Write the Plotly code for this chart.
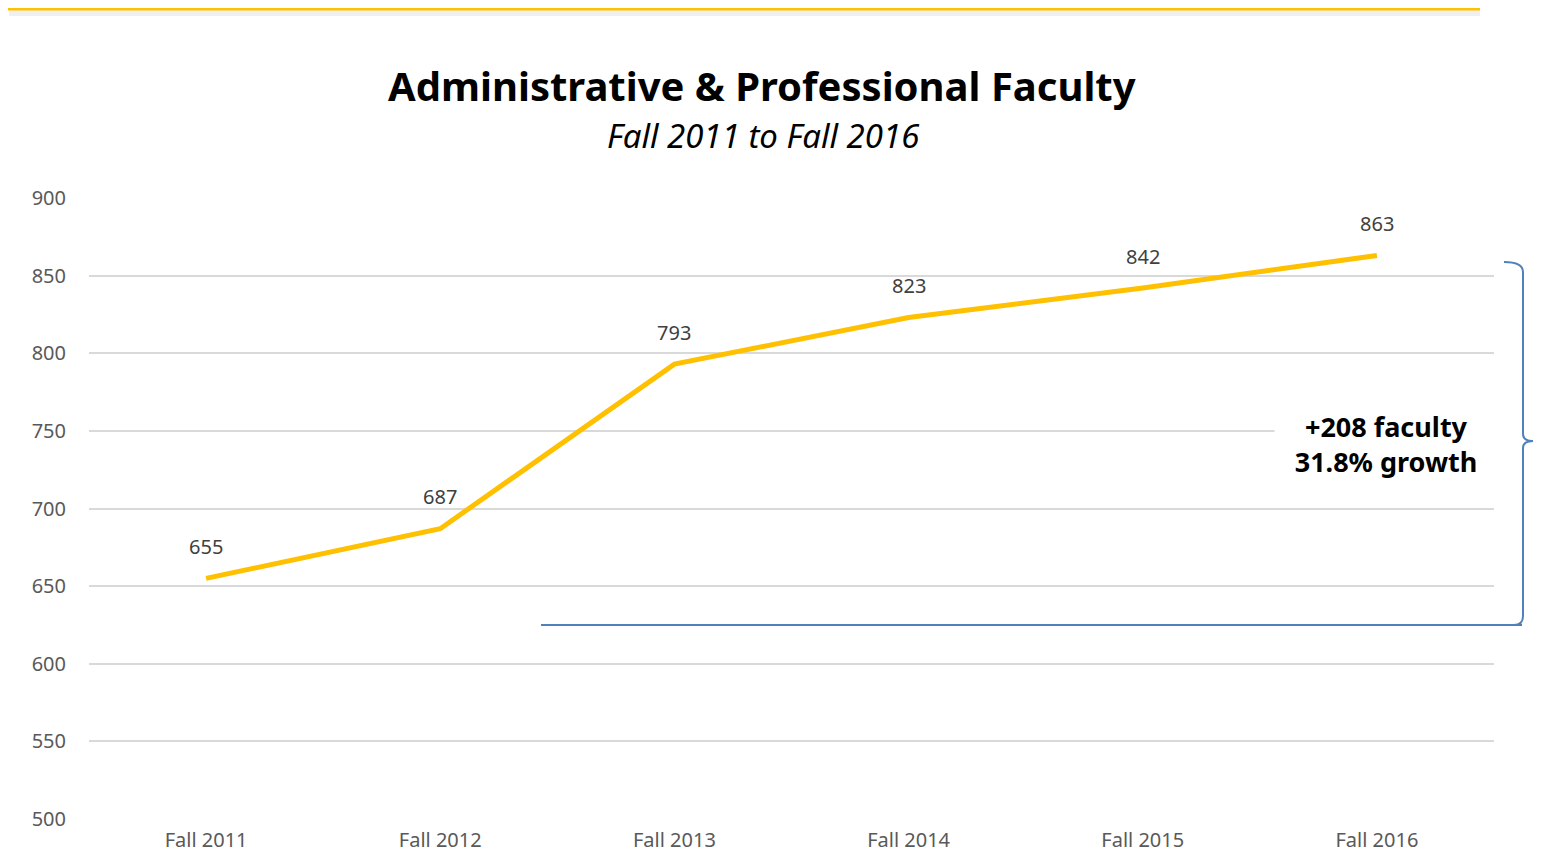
import plotly.graph_objects as go

# データ
terms = ["Fall 2011", "Fall 2012", "Fall 2013", "Fall 2014", "Fall 2015", "Fall 2016"]
faculty = [655, 687, 793, 823, 842, 863]
y_ticks = [500, 550, 600, 650, 700, 750, 800, 850, 900]
growth_text = "+208 faculty<br>31.8% growth"

# ページ上の8pxの余白を考慮して図の大きさを決める
OFF = 8
W, H = 1542 - 2 * OFF, 862 - 2 * OFF
L, R, T, B = 89 - OFF, 48 - OFF, 198 - OFF, 43 - OFF
plot_w = W - L - R
plot_h = H - T - B


def px_x(px):
    # ページ座標(px) -> paper座標
    return (px - OFF - L) / plot_w


def px_y(px):
    return (H - B - (px - OFF)) / plot_h


fig = go.Figure()

fig.add_trace(
    go.Scatter(
        x=terms,
        y=faculty,
        mode="lines",
        line=dict(color="#FFC000", width=5),
        showlegend=False,
        hoverinfo="x+y",
    )
)

# データラベル
for term, value in zip(terms, faculty):
    fig.add_annotation(
        x=term, y=value,
        text=str(value),
        showarrow=False,
        yshift=32,
        yanchor="middle",
        font=dict(size=20, color="#404040", family="Noto Sans"),
    )

# タイトル
fig.add_annotation(
    x=px_x(762), y=px_y(85), xref="paper", yref="paper",
    xanchor="center", yanchor="middle",
    text="<b>Administrative & Professional Faculty</b>",
    showarrow=False,
    font=dict(size=40, color="#000000", family="Noto Sans"),
)
fig.add_annotation(
    x=px_x(763), y=px_y(135), xref="paper", yref="paper",
    xanchor="center", yanchor="middle",
    text="<i>Fall 2011 to Fall 2016</i>",
    showarrow=False,
    font=dict(size=33, color="#000000", family="Noto Sans"),
)

# 成長率の注記
fig.add_annotation(
    x=px_x(1386), y=px_y(444), xref="paper", yref="paper",
    xanchor="center", yanchor="middle",
    text="<b>" + growth_text + "</b>",
    showarrow=False,
    bgcolor="white",
    width=220,
    font=dict(size=27, color="#000000", family="Noto Sans"),
)

# 上部の金色ライン（影つき）
fig.add_shape(
    type="line", xref="paper", yref="paper",
    x0=px_x(9), x1=px_x(1480), y0=px_y(13), y1=px_y(13),
    line=dict(color="rgba(0,0,0,0.06)", width=6), layer="below",
)
fig.add_shape(
    type="line", xref="paper", yref="paper",
    x0=px_x(8), x1=px_x(1480), y0=px_y(9), y1=px_y(9),
    line=dict(color="#FFC000", width=3),
)

# ブラケット
blue = "#4F81BD"
fig.add_shape(
    type="line", xref="paper", yref="paper",
    x0=px_x(541), x1=px_x(1522), y0=px_y(625), y1=px_y(625),
    line=dict(color=blue, width=2),
)
x_top = px_x(1504)
x_b = px_x(1523)
x_tip = px_x(1533)
fig.add_shape(
    type="path", xref="paper", yref="paper",
    path=(
        f"M {x_top},{px_y(262)} Q {x_b},{px_y(262)} {x_b},{px_y(272)} "
        f"L {x_b},{px_y(434)} Q {x_b},{px_y(441)} {x_tip},{px_y(441)} "
        f"Q {x_b},{px_y(441)} {x_b},{px_y(448)} "
        f"L {x_b},{px_y(616)} Q {x_b},{px_y(625)} {px_x(1514)},{px_y(625)}"
    ),
    line=dict(color=blue, width=2),
)

fig.update_layout(
    width=W,
    height=H,
    margin=dict(l=L, r=R, t=T, b=B),
    plot_bgcolor="white",
    paper_bgcolor="white",
    font=dict(family="Noto Sans", color="#595959"),
    xaxis=dict(
        type="category",
        range=[-0.5, 5.5],
        showgrid=False,
        showline=False,
        ticks="",
        automargin=False,
        ticklabelstandoff=7,
        tickfont=dict(size=20, color="#595959"),
    ),
    yaxis=dict(
        range=[500, 900],
        tickvals=y_ticks,
        showgrid=True,
        gridcolor="#D9D9D9",
        gridwidth=1.5,
        zeroline=False,
        ticks="",
        automargin=False,
        ticklabelstandoff=22,
        tickfont=dict(size=20, color="#595959"),
    ),
)

fig.write_html("out.html")
